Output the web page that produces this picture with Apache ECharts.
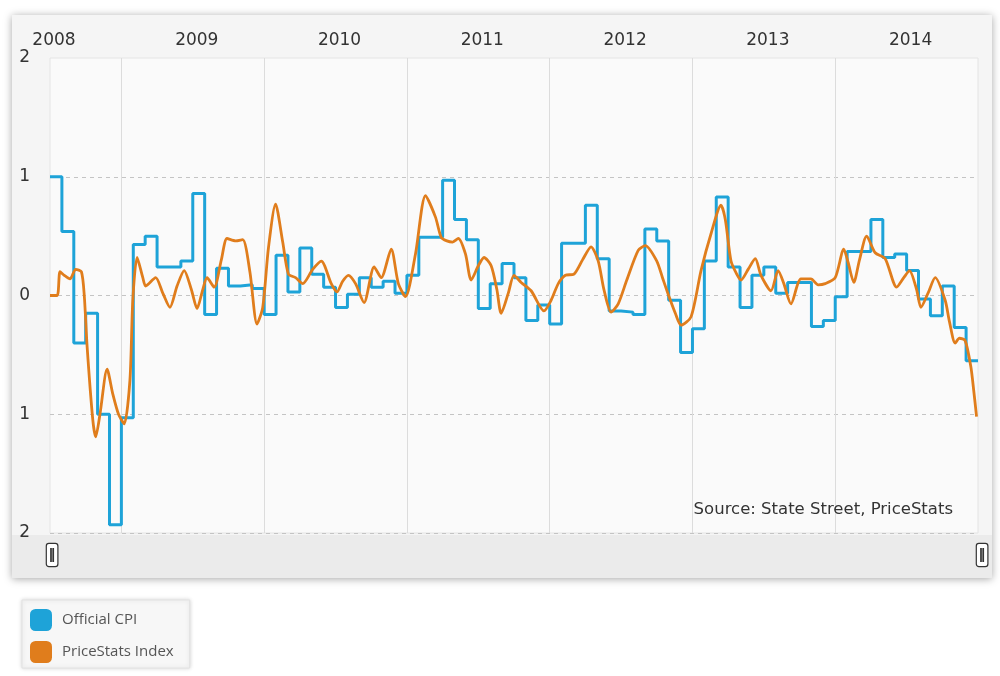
<!DOCTYPE html>
<html>
<head>
<meta charset="utf-8">
<script src="https://cdn.jsdelivr.net/npm/echarts@6/dist/echarts.min.js"></script>
<style>
html,body{margin:0;padding:0;background:#ffffff;}
#chart{width:1000px;height:676px;}
</style>
</head>
<body>
<div id="chart"></div>
<script>
// Year labels (centred mid-year) and year boundaries
var yearLabels = [2008, 2009, 2010, 2011, 2012, 2013, 2014];
var yearBoundaries = [2009, 2010, 2011, 2012, 2013, 2014];

// Official CPI, monthly, starting July 2008
var cpiStartYear = 2008;
var cpiStartMonth = 7;
var cpiValues = [
  1.00, 0.54, -0.40, -0.15, -1.00, -1.93,
  -1.03, 0.43, 0.50, 0.24, 0.24, 0.29, 0.86, -0.16, 0.23, 0.08, 0.09, 0.06,
  -0.16, 0.34, 0.03, 0.40, 0.18, 0.07, -0.10, 0.01, 0.15, 0.07, 0.12, 0.02,
  0.17, 0.49, 0.49, 0.97, 0.64, 0.47, -0.11, 0.10, 0.27, 0.15, -0.21, -0.08,
  -0.24, 0.44, 0.44, 0.76, 0.31, -0.13, -0.14, -0.16, 0.56, 0.46, -0.04, -0.48,
  -0.28, 0.29, 0.83, 0.24, -0.10, 0.17, 0.24, 0.02, 0.11, 0.11, -0.26, -0.21,
  -0.01, 0.37, 0.37, 0.64, 0.32, 0.35, 0.21, -0.03, -0.17, 0.08, -0.27, -0.55
];

// PriceStats index, time in decimal years
var psTimes = [
  2008.50, 2008.55, 2008.57, 2008.60, 2008.64, 2008.68, 2008.72, 2008.74, 2008.76, 2008.80,
  2008.82, 2008.85, 2008.90, 2008.94, 2008.98, 2009.02, 2009.06, 2009.08, 2009.11, 2009.15,
  2009.17, 2009.24, 2009.29, 2009.34, 2009.39, 2009.44, 2009.49, 2009.53, 2009.57, 2009.60,
  2009.65, 2009.70, 2009.74, 2009.80, 2009.85, 2009.90, 2009.95, 2009.99, 2010.03, 2010.08,
  2010.13, 2010.17, 2010.22, 2010.27, 2010.34, 2010.40, 2010.47, 2010.51, 2010.55, 2010.59,
  2010.64, 2010.70, 2010.77, 2010.82, 2010.89, 2010.94, 2010.99, 2011.06, 2011.13, 2011.20,
  2011.24, 2011.28, 2011.32, 2011.36, 2011.41, 2011.45, 2011.50, 2011.54, 2011.59, 2011.63,
  2011.66, 2011.71, 2011.75, 2011.80, 2011.87, 2011.96, 2012.01, 2012.06, 2012.11, 2012.17,
  2012.23, 2012.29, 2012.34, 2012.38, 2012.43, 2012.48, 2012.54, 2012.62, 2012.67, 2012.75,
  2012.79, 2012.83, 2012.88, 2012.92, 2012.99, 2013.06, 2013.13, 2013.20, 2013.23, 2013.27,
  2013.31, 2013.34, 2013.39, 2013.44, 2013.48, 2013.55, 2013.60, 2013.64, 2013.69, 2013.76,
  2013.83, 2013.88, 2013.93, 2014.00, 2014.06, 2014.09, 2014.13, 2014.17, 2014.22, 2014.28,
  2014.35, 2014.43, 2014.48, 2014.52, 2014.57, 2014.60, 2014.65, 2014.70, 2014.77, 2014.80,
  2014.84, 2014.87, 2014.91, 2014.95, 2014.97, 2014.99
];
var psValues = [
  0.00, 0.00, 0.20, 0.17, 0.14, 0.22, 0.20, 0.00, -0.43, -1.05,
  -1.19, -1.00, -0.62, -0.83, -1.00, -1.08, -0.71, -0.04, 0.32, 0.15,
  0.08, 0.15, 0.02, -0.10, 0.08, 0.21, 0.05, -0.11, 0.05, 0.15,
  0.07, 0.30, 0.48, 0.46, 0.47, 0.20, -0.24, -0.10, 0.40, 0.77,
  0.45, 0.18, 0.15, 0.10, 0.22, 0.29, 0.10, 0.03, 0.12, 0.17,
  0.10, -0.06, 0.24, 0.15, 0.39, 0.10, -0.01, 0.35, 0.84, 0.66,
  0.49, 0.46, 0.45, 0.48, 0.35, 0.13, 0.25, 0.32, 0.25, 0.05,
  -0.15, 0.02, 0.17, 0.11, 0.04, -0.13, -0.04, 0.10, 0.17, 0.18,
  0.30, 0.41, 0.29, 0.05, -0.14, -0.07, 0.13, 0.38, 0.42, 0.29,
  0.15, 0.01, -0.15, -0.25, -0.18, 0.21, 0.52, 0.76, 0.64, 0.29,
  0.18, 0.13, 0.22, 0.31, 0.17, 0.04, 0.21, 0.10, -0.07, 0.14,
  0.14, 0.09, 0.10, 0.15, 0.39, 0.28, 0.11, 0.30, 0.50, 0.36,
  0.31, 0.07, 0.15, 0.21, 0.05, -0.10, 0.02, 0.15, -0.04, -0.22,
  -0.40, -0.36, -0.38, -0.60, -0.80, -1.02
];

var seriesNames = ['Official CPI', 'PriceStats Index'];
var sourceText = 'Source: State Street, PriceStats';

// Build series data
var cpiData = cpiValues.map(function (v, i) {
  return [cpiStartYear + (cpiStartMonth - 1 + i) / 12, v];
});
// close the final month's step
cpiData.push([cpiStartYear + (cpiStartMonth - 1 + cpiValues.length) / 12, cpiValues[cpiValues.length - 1]]);
var psData = psTimes.map(function (t, i) { return [t, psValues[i]]; });

var chart = echarts.init(document.getElementById('chart'), null, {renderer: 'canvas'});
var handlePath = 'path://M-3,-11 h6 a2.5,2.5 0 0 1 2.5,2.5 v17 a2.5,2.5 0 0 1 -2.5,2.5 h-6 a2.5,2.5 0 0 1 -2.5,-2.5 v-17 a2.5,2.5 0 0 1 2.5,-2.5 z M-1.3,-6 v12 h0.5 v-12 z M0.8,-6 v12 h0.5 v-12 z';

chart.setOption({
  animation: false,
  backgroundColor: '#ffffff',
  textStyle: {fontFamily: 'DejaVu Sans'},
  graphic: [
    {
      type: 'rect', z: -10, silent: true,
      shape: {x: 12, y: 15, width: 980, height: 563},
      style: {fill: '#f5f5f5', shadowBlur: 8, shadowColor: 'rgba(0,0,0,0.35)', shadowOffsetY: 1}
    },
    {
      type: 'rect', z: -9, silent: true,
      shape: {x: 12, y: 535, width: 980, height: 43},
      style: {fill: '#ebebeb'}
    }
  ],
  title: {
    text: sourceText,
    right: 42, top: 496,
    textStyle: {fontSize: 16.5, fontWeight: 'normal', color: '#333', fontFamily: 'DejaVu Sans'}
  },
  legend: {
    data: seriesNames,
    orient: 'vertical',
    left: 22, top: 600,
    backgroundColor: '#f7f7f7',
    borderColor: '#e2e2e2', borderWidth: 1,
    shadowBlur: 4, shadowColor: 'rgba(0,0,0,0.15)',
    padding: [9, 16, 5, 8],
    itemWidth: 22, itemHeight: 22, itemGap: 10,
    icon: 'roundRect',
    textStyle: {fontSize: 15, color: '#555', fontFamily: 'Open Sans', padding: [0, 0, 0, 5]}
  },
  grid: {
    left: 50, right: 22, top: 58, bottom: 143,
    show: true, backgroundColor: '#fafafa', borderColor: '#e4e4e4', borderWidth: 1
  },
  xAxis: {
    type: 'value', position: 'top',
    min: 2008.5, max: 2015, interval: 1,
    axisLine: {show: false}, axisTick: {show: false}, splitLine: {show: false},
    axisLabel: {
      margin: 9, fontSize: 17, color: '#333', fontFamily: 'DejaVu Sans',
      showMaxLabel: false, padding: [0, 0, 0, 8],
      formatter: function (v) { return String(Math.floor(v)); }
    }
  },
  yAxis: {
    type: 'value', min: -2, max: 2, interval: 1,
    axisLine: {show: false}, axisTick: {show: false},
    axisLabel: {
      margin: 20, fontSize: 17, color: '#333', fontFamily: 'DejaVu Sans',
      formatter: function (v) { return String(Math.abs(v)); }
    },
    splitLine: {show: true, lineStyle: {color: ['#c4c4c4', '#c4c4c4', '#c4c4c4', '#c4c4c4', 'rgba(0,0,0,0)'], type: [4, 4], width: 1}}
  },
  dataZoom: [{
    type: 'slider', xAxisIndex: 0, filterMode: 'none',
    left: 50, right: 18, top: 535, height: 40,
    start: 0, end: 100,
    backgroundColor: 'rgba(0,0,0,0)', borderColor: 'rgba(0,0,0,0)',
    fillerColor: 'rgba(0,0,0,0)', showDataShadow: false, showDetail: false,
    moveHandleSize: 0, brushSelect: false,
    handleIcon: handlePath, handleSize: '58%',
    handleStyle: {color: '#ffffff', borderColor: '#333', borderWidth: 1.2},
    dataBackground: {lineStyle: {opacity: 0}, areaStyle: {opacity: 0}},
    selectedDataBackground: {lineStyle: {opacity: 0}, areaStyle: {opacity: 0}}
  }],
  series: [
    {
      name: 'grid-lines', type: 'line', data: [], z: 1, silent: true,
      markLine: {
        silent: true, symbol: 'none', label: {show: false}, z: 1,
        lineStyle: {color: '#dcdcdc', type: 'solid', width: 1},
        data: yearBoundaries.map(function (y) { return {xAxis: y}; })
      }
    },
    {
      name: seriesNames[0], type: 'line', step: 'end', data: cpiData, z: 3,
      symbol: 'none', color: '#1ea3d8',
      itemStyle: {color: '#1ea3d8'},
      lineStyle: {color: '#1ea3d8', width: 3}
    },
    {
      name: seriesNames[1], type: 'line', data: psData, z: 4, smooth: 0.25,
      symbol: 'none', color: '#e07d1c',
      itemStyle: {color: '#e07d1c'},
      lineStyle: {color: '#e07d1c', width: 2.8}
    }
  ]
});
</script>
</body>
</html>
